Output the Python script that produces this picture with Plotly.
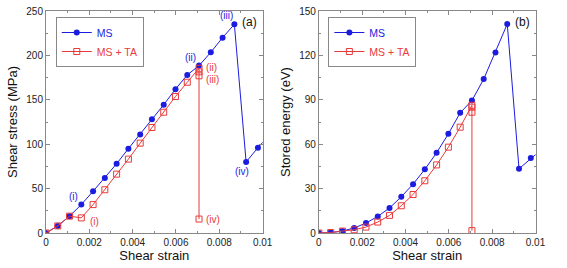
import plotly.graph_objects as go

strain_ms = [0, 0.000543, 0.001087, 0.00163, 0.002174, 0.002717, 0.003261, 0.003804, 0.004348,
             0.004891, 0.005435, 0.005978, 0.006522, 0.007065, 0.007609, 0.008152, 0.008696,
             0.009239, 0.009783, 0.010326]
stress_ms = [0, 8, 19, 32, 47, 62, 78, 95, 111, 128, 144.5, 162, 178, 188.5, 203.5, 220, 235,
             80, 96, 111]
energy_ms = [0, 0.3, 1.3, 3.4, 6.7, 11.2, 16.9, 24.5, 33, 43, 54.2, 67, 81.2, 89.5, 104, 122,
             141.2, 43.4, 50.6, 57]

strain_ta = [0, 0.000543, 0.001087, 0.00163, 0.002174, 0.002717, 0.003261, 0.003804, 0.004348,
             0.004891, 0.005435, 0.005978, 0.006522, 0.007065, 0.007065, 0.007065, 0.007065]
stress_ta = [0, 8, 19, 17, 32, 48.7, 66.3, 83.2, 101.2, 118.8, 136, 153.7, 169.8, 185.5, 181.5,
             177, 15.7]
energy_ta = [0, 0.3, 1.3, 2.2, 4, 7.4, 11.9, 18.4, 26, 35.3, 46, 58, 71.5, 86.3, 85, 81.6, 1.6]

x_ticks = [0, 0.002, 0.004, 0.006, 0.008, 0.01]
x_ticklabels = ["0", "0.002", "0.004", "0.006", "0.008", "0.01"]

BLUE = "#1c1ce0"
RED = "#e83a3a"
AXC = "#888888"
FONT = "Liberation Sans, Arial, sans-serif"

fig = go.Figure()

def add_pair(xa, ya, y_ms, y_ta, legend):
    fig.add_trace(go.Scatter(x=strain_ms, y=y_ms, mode="lines+markers", xaxis=xa, yaxis=ya,
                             name="<span style='color:%s'>MS</span>" % BLUE,
                             line=dict(color=BLUE, width=1),
                             marker=dict(symbol="circle", size=6, color=BLUE),
                             legend=legend, cliponaxis=True))
    fig.add_trace(go.Scatter(x=strain_ta, y=y_ta, mode="lines+markers", xaxis=xa, yaxis=ya,
                             name="<span style='color:%s'>MS + TA</span>" % RED,
                             line=dict(color=RED, width=1),
                             marker=dict(symbol="square-open", size=6, color=RED,
                                         line=dict(width=1)),
                             legend=legend, cliponaxis=True))

add_pair("x", "y", stress_ms, stress_ta, "legend")
add_pair("x2", "y2", energy_ms, energy_ta, "legend2")

def xaxis(domain, anchor):
    return dict(domain=domain, anchor=anchor, range=[0, 0.01], tickvals=x_ticks,
                ticktext=x_ticklabels, ticks="inside", ticklen=4, tickcolor=AXC,
                minor=dict(dtick=0.001, ticks="inside", ticklen=2, tickcolor=AXC),
                showline=True, linecolor=AXC, linewidth=1, mirror="allticks",
                showgrid=False, zeroline=False,
                tickfont=dict(size=10, color="#222", family=FONT),
                title=dict(text="Shear strain", font=dict(size=13, color="#111", family=FONT),
                           standoff=0))

def yaxis(domain, anchor, rng, dtick, title):
    return dict(domain=domain, anchor=anchor, range=rng, dtick=dtick,
                ticks="inside", ticklen=4, tickcolor=AXC,
                minor=dict(dtick=dtick / 2, ticks="inside", ticklen=2, tickcolor=AXC),
                showline=True, linecolor=AXC, linewidth=1, mirror="allticks",
                showgrid=False, zeroline=False,
                tickfont=dict(size=10, color="#222", family=FONT),
                title=dict(text=title, font=dict(size=13, color="#111", family=FONT),
                           standoff=5))

W, H = 567, 268
fig.update_layout(
    width=W, height=H,
    margin=dict(l=0, r=0, t=11, b=35),
    paper_bgcolor="white", plot_bgcolor="white",
    font=dict(family=FONT),
    xaxis=xaxis([44 / W, 265.7 / W], "y"),
    yaxis=yaxis([0, 1], "x", [0, 250], 50, "Shear stress (MPa)"),
    xaxis2=xaxis([323.3 / W, 545 / W], "y2"),
    yaxis2=yaxis([0, 1], "x2", [0, 150], 30, "Stored energy (eV)"),
    legend=dict(x=54 / W, y=1 - 6 / 222, xanchor="left", yanchor="top",
                bordercolor=AXC, borderwidth=1, bgcolor="white", itemwidth=30,
                font=dict(size=10.5, family=FONT), tracegroupgap=0),
    legend2=dict(x=333 / W, y=1 - 6 / 222, xanchor="left", yanchor="top",
                 bordercolor=AXC, borderwidth=1, bgcolor="white", itemwidth=30,
                 font=dict(size=10.5, family=FONT), tracegroupgap=0),
    showlegend=True,
)

def lab(x, y, text, color, xa="x", ya="y", xanchor="center", yanchor="middle", dx=0, dy=0):
    fig.add_annotation(x=x, y=y, xref=xa, yref=ya, text=text, showarrow=False,
                       font=dict(size=10, color=color, family=FONT),
                       xanchor=xanchor, yanchor=yanchor, xshift=dx, yshift=dy)

# MS labels
lab(0.00163, 32, "(i)", BLUE, xanchor="right", yanchor="bottom", dx=-1, dy=1)
lab(0.007065, 188.5, "(ii)", BLUE, xanchor="right", yanchor="bottom", dx=-1, dy=1)
lab(0.008696, 235, "(iii)", BLUE, xanchor="right", yanchor="bottom", dx=1, dy=1)
lab(0.009239, 80, "(iv)", BLUE, xanchor="center", yanchor="top", dx=-4, dy=-2)
# MS + TA labels
lab(0.00163, 17, "(i)", RED, xanchor="left", yanchor="middle", dx=7, dy=-4)
lab(0.007065, 186, "(ii)", RED, xanchor="left", yanchor="middle", dx=5, dy=0)
lab(0.007065, 177, "(iii)", RED, xanchor="left", yanchor="middle", dx=5, dy=-4)
lab(0.007065, 15.7, "(iv)", RED, xanchor="left", yanchor="middle", dx=5, dy=0)

# panel labels
fig.add_annotation(x=1, y=1, xref="x domain", yref="y domain", text="(a)", showarrow=False,
                   xanchor="right", yanchor="top", xshift=-4, yshift=-2,
                   font=dict(size=12, color="#111", family=FONT))
fig.add_annotation(x=1, y=1, xref="x2 domain", yref="y2 domain", text="(b)", showarrow=False,
                   xanchor="right", yanchor="top", xshift=-4, yshift=-2,
                   font=dict(size=12, color="#111", family=FONT))

fig.write_html("out.html", config={"displayModeBar": False},
               post_script="document.body.style.margin='0';")
